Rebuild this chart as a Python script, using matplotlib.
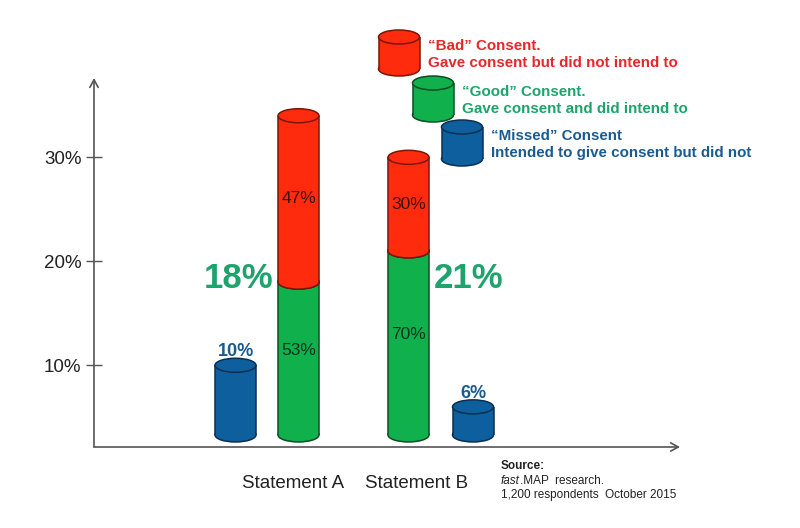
import numpy as np
import matplotlib
matplotlib.use("Agg")
import matplotlib.pyplot as plt
import matplotlib.transforms as mtransforms
from matplotlib.patches import Ellipse, Rectangle

plt.rcParams['font.family'] = ['Liberation Sans', 'DejaVu Sans']

# ---------------- data ----------------
categories = ["Statement A", "Statement B"]
good = [18, 21]          # "Good" consent (absolute %)
bad = [16, 9]            # "Bad" consent (absolute %)
missed = [10, 6]         # "Missed" consent (%)
good_share = ["53%", "70%"]
bad_share = ["47%", "30%"]
yticks = [10, 20, 30]
ytick_labels = ["10%", "20%", "30%"]

legend_titles = ["\u201cBad\u201d Consent.", "\u201cGood\u201d Consent.", "\u201cMissed\u201d Consent"]
legend_desc = ["Gave consent but did not intend to", "Gave consent and did intend to",
               "Intended to give consent but did not"]

# ---------------- style ----------------
RED, RED_E = "#ff2b0c", "#7a1608"
GREEN, GREEN_E = "#10b04c", "#0b4d24"
BLUE, BLUE_E = "#0d5f9e", "#0a2f52"
TXT_RED, TXT_GREEN, TXT_BLUE = "#e8262b", "#1ea36c", "#1a5c8f"
AX_C = "#555555"

BASE = 3.3        # visual bottom of the cylinders
CW = 41           # cylinder width (x units)
EH = 1.35         # ellipse height (y units)

fig = plt.figure(figsize=(8, 5.28), dpi=100)
ax = fig.add_axes([94 / 800, (528 - 447) / 528, (680 - 94) / 800, (447 - 78) / 528])
ax.set_xlim(0, 586)
ax.set_ylim(2.14, 37.63)
for s in ax.spines.values():
    s.set_visible(False)

pos = np.arange(len(categories))
stack_x = 204.5 + 110 * pos
blue_x = stack_x + np.array([-63, 64.5])


def cylinder(a, x, y0, y1, fc, ec, w, eh, z=2):
    a.add_patch(Ellipse((x, y0), w, eh, facecolor=fc, edgecolor=ec, lw=1.1, zorder=z))
    a.add_patch(Rectangle((x - w / 2, y0), w, y1 - y0, facecolor=fc, edgecolor="none", zorder=z))
    a.plot([x - w / 2, x - w / 2], [y0, y1], color=ec, lw=1.1, zorder=z, solid_capstyle="butt")
    a.plot([x + w / 2, x + w / 2], [y0, y1], color=ec, lw=1.1, zorder=z, solid_capstyle="butt")
    a.add_patch(Ellipse((x, y1), w, eh, facecolor=fc, edgecolor=ec, lw=1.1, zorder=z))


for i in range(len(categories)):
    g, b, m = good[i], bad[i], missed[i]
    cylinder(ax, stack_x[i], BASE, g, GREEN, GREEN_E, CW, EH, z=2)
    cylinder(ax, stack_x[i], g, g + b, RED, RED_E, CW, EH, z=3)
    cylinder(ax, blue_x[i], BASE, m, BLUE, BLUE_E, CW, EH, z=2)
    ax.text(stack_x[i], (g + g + b) / 2, bad_share[i], ha="center", va="center",
            fontsize=12.5, color="#3d1008", zorder=5)
    ax.text(stack_x[i], (BASE + g) / 2 + 0.8, good_share[i], ha="center", va="center",
            fontsize=12.5, color="#07331c", zorder=5)
    ax.text(blue_x[i], m + 1.3, f"{m}%", ha="center", va="center",
            fontsize=13, fontweight="bold", color=TXT_BLUE, zorder=5)
    side = -1 if i == 0 else 1
    ax.text(stack_x[i] + side * 60, 18.3, f"{g}%", ha="center", va="center",
            fontsize=25, fontweight="bold", color=TXT_GREEN, zorder=5)

# axes
ax.set_yticks(yticks)
ax.set_yticklabels(ytick_labels)
ax.tick_params(axis="y", direction="inout", length=12, width=1, color=AX_C,
               labelsize=13.5, labelcolor="#222222", pad=3)
ax.set_xticks(stack_x)
ax.set_xticklabels(categories)
ax.tick_params(axis="x", length=0, labelsize=13.5, labelcolor="#222222", pad=20)
for lbl, dx in zip(ax.get_xticklabels(), [-5, 8]):
    lbl.set_transform(lbl.get_transform() + mtransforms.ScaledTranslation(dx / 100, 0, fig.dpi_scale_trans))
arrow = dict(arrowstyle="->,head_length=0.55,head_width=0.3", color=AX_C, lw=1.2,
             shrinkA=0, shrinkB=0)
ax.annotate("", xy=(0, 1), xytext=(0, 0), xycoords="axes fraction", arrowprops=arrow)
ax.annotate("", xy=(1, 0), xytext=(0, 0), xycoords="axes fraction", arrowprops=arrow)

# legend overlay (pixel coordinates)
lax = fig.add_axes([0, 0, 1, 1])
lax.set_xlim(0, 800)
lax.set_ylim(528, 0)
lax.axis("off")
leg_cols = [(RED, RED_E, TXT_RED), (GREEN, GREEN_E, TXT_GREEN), (BLUE, BLUE_E, TXT_BLUE)]
leg_x = [399, 433, 462]
leg_top = [37, 83, 127]
for k in range(3):
    fc, ec, tc = leg_cols[k]
    cylinder(lax, leg_x[k], leg_top[k] + 32, leg_top[k], fc, ec, 41, 14, z=2)
    tx = leg_x[k] + 29
    lax.text(tx, leg_top[k] + 9, legend_titles[k], ha="left", va="center",
             fontsize=10.9, fontweight="bold", color=tc)
    lax.text(tx, leg_top[k] + 26, legend_desc[k], ha="left", va="center",
             fontsize=10.9, fontweight="bold", color=tc)

# source
lax.text(501, 466, "Source:", ha="left", va="center", fontsize=8.5, fontweight="bold", color="#222222")
t1 = lax.text(501, 481, "fast", ha="left", va="center", fontsize=8.5, style="italic", color="#222222")
lax.annotate(".MAP  research.", xy=(1, 0.5), xycoords=t1, ha="left", va="center",
             fontsize=8.5, color="#222222")
lax.text(501, 495, "1,200 respondents  October 2015", ha="left", va="center",
         fontsize=8.5, color="#222222")

fig.savefig("out.png", dpi=100, facecolor="white")
